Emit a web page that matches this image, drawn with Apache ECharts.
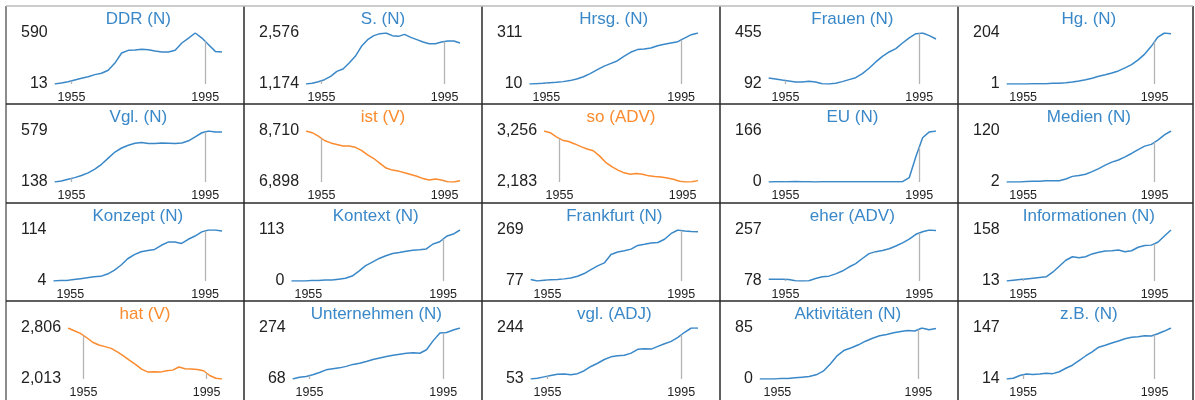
<!DOCTYPE html>
<html><head><meta charset="utf-8">
<script src="https://cdn.jsdelivr.net/npm/echarts@6/dist/echarts.min.js"></script>
<style>html,body{margin:0;padding:0;background:#fff}#c{width:1195px;height:400px}</style>
</head><body><div id="c"></div>
<script>
const years = [1950,1952,1954,1956,1958,1960,1962,1964,1966,1968,1970,1972,1974,1976,1978,1980,1982,1984,1986,1988,1990,1992,1994,1996,1998,2000];
const xTickLabels = [1955, 1995];
const markerYears = [1955, 1995];

const titles = ["DDR (N)","S. (N)","Hrsg. (N)","Frauen (N)","Hg. (N)",
  "Vgl. (N)","ist (V)","so (ADV)","EU (N)","Medien (N)",
  "Konzept (N)","Kontext (N)","Frankfurt (N)","eher (ADV)","Informationen (N)",
  "hat (V)","Unternehmen (N)","vgl. (ADJ)","Aktivitäten (N)","z.B. (N)"];
const trends = ["up","up","up","up","up",
  "up","down","down","up","up",
  "up","up","up","up","up",
  "down","up","up","up","up"];

const ddr = [13,24,39,58,77,96,119,134,168,250,364,394,398,405,401,386,375,375,394,477,533,590,533,458,382,375];
const sN = [1174,1192,1238,1293,1385,1522,1586,1751,1935,2209,2393,2503,2558,2576,2503,2484,2539,2457,2393,2329,2283,2283,2329,2356,2356,2301];
const hrsg = [10,12,14,18,20,24,30,40,53,71,93,114,130,146,173,197,213,217,222,236,244,252,260,281,301,311];
const frauen = [135,128,120,113,106,106,111,106,94,92,97,109,123,137,166,204,249,289,320,344,384,420,450,455,436,412];
const hg = [1,1,1,1,2,2,2,4,4,6,9,13,18,24,32,38,45,53,65,78,97,120,151,188,204,201];
const vglN = [138,147,162,176,194,217,250,291,344,397,432,456,473,479,470,470,476,473,470,476,494,529,564,579,570,570];
const ist = [8710,8650,8529,8372,8287,8227,8178,8178,8130,8021,7864,7732,7562,7393,7321,7285,7224,7164,7103,7019,6970,7007,6970,6910,6898,6946];
const so = [3256,3220,3134,3063,3034,2984,2927,2877,2841,2733,2598,2505,2433,2376,2348,2362,2348,2312,2298,2290,2269,2240,2197,2183,2190,2212];
const eu = [0,1,1,1,2,1,1,0,1,1,1,1,1,1,1,1,1,1,1,1,1,14,83,144,163,166];
const medien = [2,2,2,3,4,4,5,5,5,9,15,17,20,26,33,41,48,53,60,68,77,85,89,99,111,120];
const konzept = [4,5,5,7,9,11,13,14,19,27,38,52,61,67,70,72,81,88,88,85,94,101,110,114,114,112];
const kontext = [0,0,0,1,1,2,2,4,6,11,22,34,42,50,56,61,63,66,68,69,71,82,87,99,104,113];
const frankfurt = [83,77,80,82,83,85,88,95,105,120,134,145,177,186,191,197,211,215,220,222,234,256,269,265,263,262];
const eher = [84,84,84,83,79,78,79,87,93,95,103,113,127,139,157,174,181,185,191,201,212,225,242,251,257,255];
const informationen = [13,15,17,19,21,23,25,38,55,72,82,79,82,90,95,98,99,101,96,99,109,114,115,123,141,158];
const hat = [2806,2764,2722,2658,2584,2542,2516,2489,2436,2373,2304,2236,2162,2120,2125,2120,2141,2151,2199,2172,2167,2162,2141,2067,2024,2013];
const unternehmen = [68,75,78,85,94,105,109,113,119,127,132,139,147,153,159,164,168,172,174,172,186,223,254,256,266,274];
const vglAdj = [53,56,61,66,71,72,69,73,84,100,112,126,136,140,142,150,164,166,165,175,185,194,209,228,244,244];
const aktivitaeten = [0,0,0,1,1,2,3,4,7,13,25,39,48,52,57,63,68,72,74,77,79,81,80,85,82,84];
const zb = [14,16,23,27,26,27,29,28,33,42,50,62,74,85,97,102,108,113,119,123,124,127,126,132,139,147];

const seriesValues = [ddr,sN,hrsg,frauen,hg,vglN,ist,so,eu,medien,konzept,kontext,frankfurt,eher,informationen,hat,unternehmen,vglAdj,aktivitaeten,zb];

const BLUE = '#3a88c8', ORANGE = '#fb8b2e';
const FONT = '"Liberation Sans", Arial, Helvetica, sans-serif';
const colEdges = [6, 244, 482, 720, 958, 1193];
const rowEdges = [6, 104, 203, 301];

const ctx = document.createElement('canvas').getContext('2d');
ctx.font = '16px "Liberation Sans", Arial';
const fmt = v => Number(v).toLocaleString('en-US');
function interp(xs, ys, x){
  for (let i=0;i<xs.length-1;i++){ if (x>=xs[i] && x<=xs[i+1]) { const t=(x-xs[i])/(xs[i+1]-xs[i]); return ys[i]+t*(ys[i+1]-ys[i]); } }
  return ys[ys.length-1];
}

const grids=[], xAxes=[], yAxes=[], series=[], titleOpts=[], graphics=[];
titles.forEach((t,i)=>{
  const c=i%5, r=Math.floor(i/5);
  const vals = seriesValues[i];
  const ymin = Math.min(...vals), ymax = Math.max(...vals);
  const lw = Math.max(ctx.measureText(fmt(ymin)).width, ctx.measureText(fmt(ymax)).width);
  const pl = colEdges[c] + 15, pr = colEdges[c+1] - 22;
  const plotLeft = pl + lw + 7;
  const rowTop = rowEdges[r];
  const color = trends[i]==='down' ? ORANGE : BLUE;
  grids.push({left: plotLeft, top: rowTop+27, width: pr-plotLeft, height: 51});
  xAxes.push({type:'value', gridIndex:i, min:1950, max:2000,
    axisLine:{show:false}, axisTick:{show:false}, splitLine:{show:false},
    axisLabel:{customValues: xTickLabels, formatter: v=>String(v), fontSize:12.5, color:'#222', fontFamily:FONT, margin:7}});
  yAxes.push({type:'value', gridIndex:i, min:ymin, max:ymax,
    axisLine:{show:false}, axisTick:{show:false}, splitLine:{show:false},
    axisLabel:{customValues:[ymin,ymax], formatter: fmt, fontSize:16, color:'#222', fontFamily:FONT, margin:7}});
  series.push({type:'line', xAxisIndex:i, yAxisIndex:i, showSymbol:false, silent:true,
    data: years.map((y,k)=>[y, vals[k]]),
    lineStyle:{color, width:1.5}, itemStyle:{color},
    markLine:{silent:true, symbol:['none','none'], label:{show:false},
      lineStyle:{color:'#b4b4b4', width:1.3, type:'solid'},
      data: markerYears.map(m=>[{coord:[m,ymin]},{coord:[m, interp(years, vals, m)]}])},
    z: 3});
  titleOpts.push({text:t, left:(plotLeft+pr)/2, top: rowTop+4.5, textAlign:'center', padding:0,
    textStyle:{fontSize:17, fontWeight:'normal', color, fontFamily:FONT}});
});

// panel borders
const lineStyle = {stroke:'#2a2a2a', lineWidth:1.5};
colEdges.forEach((x,k)=>{
  graphics.push({type:'line', shape:{x1:x,y1:rowEdges[0],x2:x,y2:400}, style: k===0?{stroke:'#666',lineWidth:1.5}:lineStyle, silent:true});
});
rowEdges.forEach((y,k)=>{
  graphics.push({type:'line', shape:{x1:colEdges[0],y1:y,x2:colEdges[5],y2:y}, style: k===0?{stroke:'#bbb',lineWidth:1.5}:lineStyle, silent:true});
});

const chart = echarts.init(document.getElementById('c'), null, {renderer:'canvas'});
chart.setOption({animation:false, backgroundColor:'#fff', title:titleOpts, grid:grids, xAxis:xAxes, yAxis:yAxes, series, graphic:graphics});
</script></body></html>
